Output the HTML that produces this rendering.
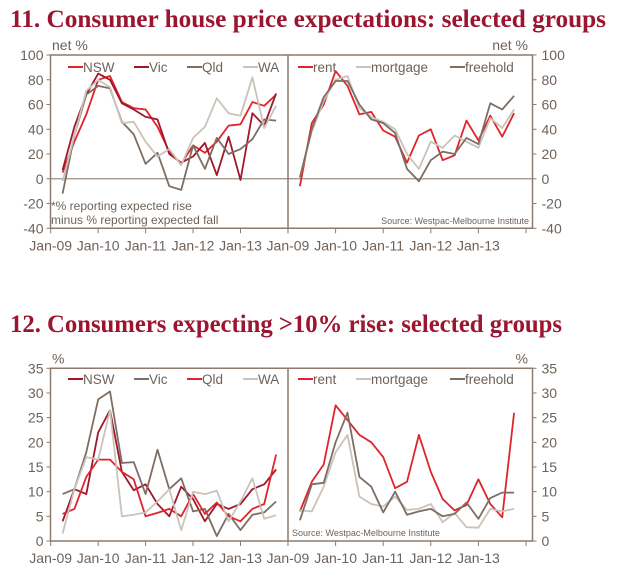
<!DOCTYPE html>
<html><head><meta charset="utf-8">
<style>
body{margin:0;background:#fff;width:617px;height:579px;overflow:hidden}
svg{display:block}
.t{font-family:"Liberation Serif",serif;font-weight:bold;fill:#9b1530;font-size:25px}
.tk{font-family:"Liberation Sans",sans-serif;font-size:14px;fill:#6e6259}
.lg{font-family:"Liberation Sans",sans-serif;font-size:13.5px;fill:#6e6259}
.sm{font-family:"Liberation Sans",sans-serif;fill:#6e6259}
</style></head><body>
<svg id="s" width="617" height="579">
<text class="t" x="10" y="27" textLength="596" lengthAdjust="spacingAndGlyphs">11.  Consumer house price expectations: selected groups</text>
<text class="t" x="10" y="332" textLength="552" lengthAdjust="spacingAndGlyphs">12. Consumers expecting &gt;10% rise: selected groups</text>
</svg>
<script>
const xTickLabels1=["Jan-09","Jan-10","Jan-11","Jan-12","Jan-13","Jan-09"];
const xTickLabels2=["Jan-09","Jan-10","Jan-11","Jan-12","Jan-13"];
const times=[2009.25,2009.5,2009.75,2010,2010.25,2010.5,2010.75,2011,2011.25,2011.5,2011.75,2012,2012.25,2012.5,2012.75,2013,2013.25,2013.5,2013.75];
const c1Ticks=[100,80,60,40,20,0,-20,-40];
const c2Ticks=[35,30,25,20,15,10,5,0];
const c1NSW=[5,30,52,80,83,62,57,56,42,22,12,27,21,30,43,44,62,59,68];
const c1Vic=[7,42,68,85,80,61,56,50,48,20,13,18,29,3,34,-1,53,43,69];
const c1Qld=[-12,35,68,75,73,46,36,12,21,-6,-9,27,8,33,20,24,32,48,47];
const c1WA=[-2,35,71,80,74,45,46,30,18,24,11,33,42,65,53,51,82,41,59];
const c1Rent=[-6,45,60,87,75,52,54,39,34,13,35,40,15,19,47,31,51,34,53];
const c1Mort=[1,38,63,80,83,57,50,46,40,20,8,30,25,35,30,25,49,41,56];
const c1Free=[1,40,66,79,79,60,48,45,37,8,-2,15,22,20,33,28,61,56,67];
const c2NSW=[4,10.5,9.5,22,26.5,14,10.3,11.5,7.5,5,11,8.5,4,7.5,6.5,7.5,10.5,11.5,14.5];
const c2Vic=[9.5,10.5,18,28.7,30.3,15.8,16,9.5,18.5,10.5,12.7,6,6.5,1,5.5,2.2,5.3,5.8,8];
const c2Qld=[5.5,6.5,13,16.5,16.5,14,12.5,5,5.7,6.5,5,9.5,5.5,7.8,5,4,6.5,7.5,17.5];
const c2WA=[1.5,10.5,17,16.5,26.5,5,5.3,5.8,8,10.5,2.2,10,9.5,10.2,4,8,12.7,4.5,5.2];
const c2Rent=[6,12,15.5,27.5,24.5,21.5,20,17,10.7,12,21.5,14,8.5,6.2,7.3,12.5,7.5,4.8,26];
const c2Mort=[6.2,6,11,18,21.5,9,7.5,7,9,6.3,6.5,7.5,3.8,5.7,2.8,2.7,6.5,6,6.5];
const c2Free=[4.2,11.5,11.8,20,26,13,11,5.8,10,5.3,6,6.5,5,5.5,7.8,4.5,8.7,9.8,9.8];

const NS="http://www.w3.org/2000/svg";
const svg=document.getElementById('s');
const AX="#8c7b6e";
const C={red:"#e0242b",dark:"#a0182c",brown:"#7d6e64",light:"#c9c3ba"};
function mk(t,a,p){const e=document.createElementNS(NS,t);for(const k in a)e.setAttribute(k,a[k]);(p||svg).appendChild(e);return e;}

function chart(o){
  const g=mk('g',{});
  
  
  const L=50.5,M=288,R=532.5,T=o.top,B=o.bot;
  const y=v=>B-(v-o.min)/(o.max-o.min)*(B-T);
  const xl=t=>50.7+(t-2009)*47.45;
  const xr=t=>288+(t-2009)*47.6;
  if(o.zero){const z=mk('line',{x1:L,x2:R,y1:y(0),y2:y(0),stroke:"#9c8f85","stroke-width":1.2},g);}
  const fr=mk('path',{d:`M${L} ${T}H${R}V${B}H${L}Z M${M} ${T}V${B}`,fill:"none",stroke:AX,"stroke-width":1.5},g);
  
  o.ticks.forEach(v=>{
    const a=mk('text',{class:"tk",x:L-7,y:y(v)+5,"text-anchor":"end"},g);a.textContent=v;
    
    const b=mk('text',{class:"tk",x:R+9,y:y(v)+5},g);b.textContent=v;
    
    mk('line',{x1:L-4,x2:L,y1:y(v),y2:y(v),stroke:AX},g);
    mk('line',{x1:R,x2:R+4,y1:y(v),y2:y(v),stroke:AX},g);
  });
  o.xl.forEach((s,i)=>{const x=xl(2009+i);mk('line',{x1:x,x2:x,y1:B,y2:B+5,stroke:AX},g);
    const t=mk('text',{class:"tk",x:x,y:B+22,"text-anchor":"middle"},g);t.textContent=s;
    });
  o.xr.forEach((s,i)=>{const x=xr(2009+i);mk('line',{x1:x,x2:x,y1:B,y2:B+5,stroke:AX},g);
    if(s){const t=mk('text',{class:"tk",x:x,y:B+22,"text-anchor":"middle"},g);t.textContent=s;
    }});
  mk('line',{x1:xr(2014),x2:xr(2014),y1:B,y2:B+5,stroke:AX},g);
  const u1=mk('text',{class:"tk",x:52,y:T-5},g);u1.textContent=o.unit;
  const u2=mk('text',{class:"tk",x:528,y:T-5,"text-anchor":"end"},g);u2.textContent=o.unit;
  function series(arr,col,xf,nm){
    const d=arr.map((v,i)=>(i?"L":"M")+xf(times[i]).toFixed(1)+" "+y(v).toFixed(1)).join("");
    const p=mk('path',{d:d,fill:"none",stroke:col,"stroke-width":1.8,"stroke-linejoin":"round"},g);
    
  }
  o.left.forEach(s=>series(s.d,s.c,xl,'series-'+s.n.toLowerCase()));
  o.right.forEach(s=>series(s.d,s.c,xr,'series-'+s.n));
  const ly=o.ly;
  function leg(list,xs){list.forEach((s,i)=>{
    const lg=mk('g',{},g);
    mk('line',{x1:xs[i],x2:xs[i]+15,y1:ly,y2:ly,stroke:s.c,"stroke-width":2},lg);
    const t=mk('text',{class:"lg",x:xs[i]+15,y:ly+5},lg);t.textContent=s.n;});}
  leg(o.left,[68,134,187,243]);
  leg(o.right,[298,356,450]);
  return {g,y};
}
const a=chart({name:'chart-11',top:55,bot:228.3,min:-40,max:100,ticks:c1Ticks,zero:true,unit:"net %",ly:67,
  xl:xTickLabels1,xr:["","Jan-10","Jan-11","Jan-12","Jan-13"],
  left:[{n:"NSW",c:C.red,d:c1NSW},{n:"Vic",c:C.dark,d:c1Vic},{n:"Qld",c:C.brown,d:c1Qld},{n:"WA",c:C.light,d:c1WA}],
  right:[{n:"rent",c:C.red,d:c1Rent},{n:"mortgage",c:C.light,d:c1Mort},{n:"freehold",c:C.brown,d:c1Free}]});
const b=chart({name:'chart-12',top:368.3,bot:541,min:0,max:35,ticks:c2Ticks,zero:false,unit:"%",ly:379,
  xl:xTickLabels1,xr:["","Jan-10","Jan-11","Jan-12","Jan-13"],
  left:[{n:"NSW",c:C.dark,d:c2NSW},{n:"Vic",c:C.brown,d:c2Vic},{n:"Qld",c:C.red,d:c2Qld},{n:"WA",c:C.light,d:c2WA}],
  right:[{n:"rent",c:C.red,d:c2Rent},{n:"mortgage",c:C.light,d:c2Mort},{n:"freehold",c:C.brown,d:c2Free}]});
function txt(s,x,y,sz,anc,nm){const t=mk('text',{class:"sm",x:x,y:y,"font-size":sz,"text-anchor":anc||"start"});t.textContent=s;
  }
txt("*% reporting expected rise",51,210,12,"start","footnote-line-1");
txt("minus % reporting expected fall",51,224,12,"start","footnote-line-2");
txt("Source: Westpac-Melbourne Institute",529,224,9,"end","source-note-11");
txt("Source: Westpac-Melbourne Institute",292,536,9,"start","source-note-12");
</script>
</body></html>
